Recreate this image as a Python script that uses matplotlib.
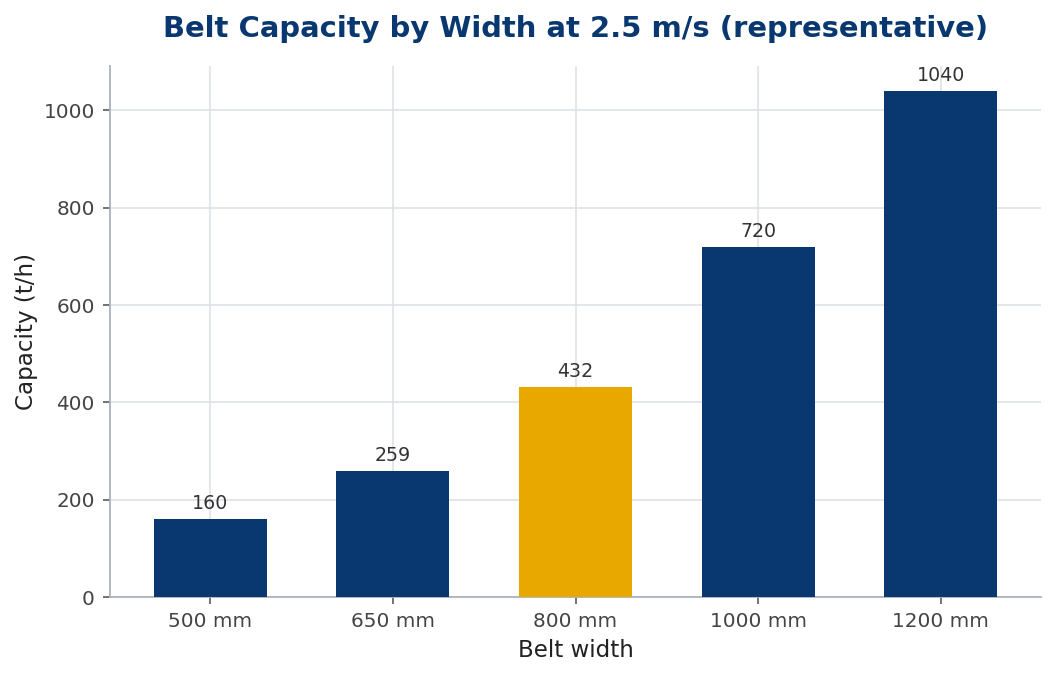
import numpy as np
import matplotlib.pyplot as plt

# Belt capacity data
widths = ['500 mm', '650 mm', '800 mm', '1000 mm', '1200 mm']
capacity = [160, 259, 432, 720, 1040]
highlight = '800 mm'

NAVY = '#08386f'
GOLD = '#e8a800'

fig, ax = plt.subplots(figsize=(1055 / 144, 677 / 144), dpi=144)

x = np.arange(len(widths))
colors = [GOLD if w == highlight else NAVY for w in widths]
bars = ax.bar(x, capacity, width=0.62, color=colors, zorder=3)

for b, v in zip(bars, capacity):
    ax.annotate(str(v), (b.get_x() + b.get_width() / 2, v),
                xytext=(0, 3), textcoords='offset points',
                ha='center', va='bottom', fontsize=9.5, color='#333333')

ax.set_xticks(x)
ax.set_xticklabels(widths)
ax.set_xlim(-0.55, len(widths) - 0.45)
ax.set_ylim(0, max(capacity) * 1.05)

ax.set_title('Belt Capacity by Width at 2.5 m/s (representative)',
             fontsize=14.5, fontweight='bold', color=NAVY, pad=14.5)
ax.set_xlabel('Belt width', fontsize=11.5, color='#222222', labelpad=4)
ax.set_ylabel('Capacity (t/h)', fontsize=11.5, color='#222222', labelpad=2.5)

ax.grid(True, color='#dde1e7', linewidth=0.8, zorder=0)
ax.set_axisbelow(True)
for s in ['top', 'right']:
    ax.spines[s].set_visible(False)
for s in ['left', 'bottom']:
    ax.spines[s].set_color('#aab2bd')
    ax.spines[s].set_linewidth(0.9)
ax.tick_params(labelsize=10, colors='#444444', length=3.5, pad=4)
ax.tick_params(axis='both', color='#555555')

plt.subplots_adjust(left=0.104, right=0.987, top=0.903, bottom=0.118)
plt.savefig('out.png', dpi=144)
